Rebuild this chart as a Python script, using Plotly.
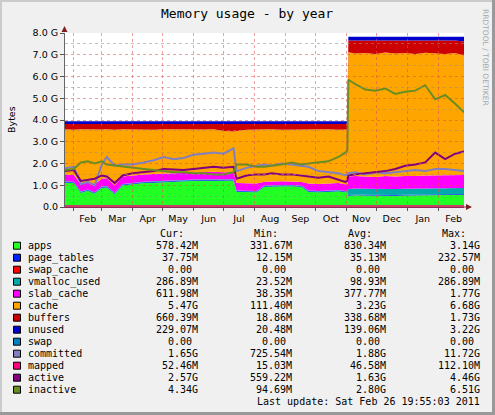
import plotly.graph_objects as go

# ---------------- data (values in GiB) ----------------
dates = [
    "2010-01-23", "2010-02-01", "2010-02-08", "2010-02-15", "2010-02-22",
    "2010-03-01", "2010-03-06", "2010-03-14", "2010-03-22", "2010-04-01",
    "2010-04-12", "2010-04-22", "2010-05-02", "2010-05-12", "2010-05-22",
    "2010-06-01", "2010-06-11", "2010-06-21", "2010-07-01", "2010-07-11",
    "2010-07-14", "2010-07-24", "2010-08-03", "2010-08-11", "2010-08-18",
    "2010-08-28", "2010-09-07", "2010-09-17", "2010-09-24", "2010-10-04",
    "2010-10-14", "2010-10-24", "2010-10-31", "2010-11-02", "2010-11-03",
    "2010-11-10", "2010-11-20", "2010-11-30", "2010-12-10", "2010-12-20",
    "2010-12-30", "2011-01-09", "2011-01-19", "2011-01-29", "2011-02-08",
    "2011-02-18", "2011-02-26 19:55",
]

apps = [1.12, 1.10, 0.65, 0.75, 0.62, 0.88, 0.90, 0.60, 1.00, 1.05,
        1.10, 1.12, 1.13, 1.15, 1.18, 1.20, 1.20, 1.22, 1.22, 1.22,
        0.70, 0.68, 0.68, 0.93, 0.95, 0.95, 0.95, 0.93, 0.70, 0.68,
        0.70, 0.72, 0.68, 0.68, 0.52, 0.54, 0.53, 0.52, 0.53, 0.52,
        0.53, 0.54, 0.53, 0.54, 0.56, 0.55, 0.565]
page_tables = [0.035, 0.035, 0.035, 0.035, 0.035, 0.035, 0.035, 0.035, 0.035, 0.035,
               0.035, 0.035, 0.035, 0.035, 0.035, 0.035, 0.035, 0.035, 0.035, 0.035,
               0.035, 0.035, 0.035, 0.035, 0.035, 0.035, 0.035, 0.035, 0.035, 0.035,
               0.035, 0.035, 0.035, 0.035, 0.035, 0.035, 0.035, 0.035, 0.035, 0.035,
               0.035, 0.035, 0.035, 0.035, 0.035, 0.035, 0.035]
swap_cache = [0.0, 0.0, 0.0, 0.0, 0.0, 0.0, 0.0, 0.0, 0.0, 0.0,
              0.0, 0.0, 0.0, 0.0, 0.0, 0.0, 0.0, 0.0, 0.0, 0.0,
              0.0, 0.0, 0.0, 0.0, 0.0, 0.0, 0.0, 0.0, 0.0, 0.0,
              0.0, 0.0, 0.0, 0.0, 0.0, 0.0, 0.0, 0.0, 0.0, 0.0,
              0.0, 0.0, 0.0, 0.0, 0.0, 0.0, 0.0]
vmalloc_used = [0.025, 0.025, 0.025, 0.025, 0.025, 0.025, 0.025, 0.025, 0.025, 0.025,
                0.025, 0.025, 0.025, 0.025, 0.025, 0.025, 0.025, 0.025, 0.025, 0.025,
                0.025, 0.025, 0.025, 0.025, 0.025, 0.025, 0.025, 0.025, 0.025, 0.025,
                0.025, 0.025, 0.025, 0.025, 0.27, 0.27, 0.27, 0.27, 0.27, 0.27,
                0.27, 0.27, 0.27, 0.27, 0.27, 0.27, 0.27]
slab_cache = [0.30, 0.31, 0.34, 0.31, 0.37, 0.36, 0.36, 0.34, 0.34, 0.34,
              0.34, 0.34, 0.35, 0.35, 0.34, 0.34, 0.34, 0.34, 0.32, 0.32,
              0.34, 0.34, 0.34, 0.17, 0.17, 0.17, 0.16, 0.16, 0.32, 0.32,
              0.32, 0.32, 0.31, 0.31, 0.575, 0.575, 0.565, 0.555, 0.585, 0.575,
              0.595, 0.575, 0.615, 0.615, 0.615, 0.615, 0.60]
cache = [2.09, 2.08, 2.52, 2.44, 2.53, 2.26, 2.25, 2.55, 2.17, 2.11,
         2.07, 2.03, 2.03, 2.00, 1.99, 1.95, 1.96, 1.95, 1.89, 1.87,
         2.40, 2.47, 2.48, 2.39, 2.39, 2.37, 2.39, 2.42, 2.47, 2.50,
         2.49, 2.45, 2.51, 2.51, 5.71, 5.64, 5.68, 5.66, 5.68, 5.66,
         5.65, 5.62, 5.64, 5.60, 5.56, 5.61, 5.495]
buffers = [0.25, 0.27, 0.25, 0.26, 0.24, 0.26, 0.25, 0.27, 0.25, 0.26,
           0.25, 0.27, 0.25, 0.26, 0.25, 0.27, 0.26, 0.25, 0.33, 0.35,
           0.32, 0.27, 0.26, 0.27, 0.25, 0.27, 0.26, 0.25, 0.27, 0.26,
           0.25, 0.27, 0.26, 0.26, 0.55, 0.60, 0.58, 0.62, 0.56, 0.60,
           0.58, 0.62, 0.57, 0.60, 0.62, 0.58, 0.645]
unused = [0.12, 0.12, 0.12, 0.12, 0.12, 0.12, 0.12, 0.12, 0.12, 0.12,
          0.12, 0.12, 0.12, 0.12, 0.12, 0.12, 0.12, 0.12, 0.12, 0.12,
          0.12, 0.12, 0.12, 0.12, 0.12, 0.12, 0.12, 0.12, 0.12, 0.12,
          0.12, 0.12, 0.12, 0.12, 0.17, 0.17, 0.17, 0.17, 0.17, 0.17,
          0.17, 0.17, 0.17, 0.17, 0.17, 0.17, 0.22]
swap = [0.0, 0.0, 0.0, 0.0, 0.0, 0.0, 0.0, 0.0, 0.0, 0.0,
        0.0, 0.0, 0.0, 0.0, 0.0, 0.0, 0.0, 0.0, 0.0, 0.0,
        0.0, 0.0, 0.0, 0.0, 0.0, 0.0, 0.0, 0.0, 0.0, 0.0,
        0.0, 0.0, 0.0, 0.0, 0.0, 0.0, 0.0, 0.0, 0.0, 0.0,
        0.0, 0.0, 0.0, 0.0, 0.0, 0.0, 0.0]
committed = [1.78, 1.85, 1.05, 1.15, 1.00, 1.95, 2.30, 1.90, 1.95, 1.95,
             2.05, 2.15, 2.30, 2.20, 2.25, 2.40, 2.45, 2.50, 2.45, 2.70,
             1.65, 1.80, 1.90, 1.95, 1.90, 2.00, 1.95, 1.90, 1.85, 1.65,
             1.60, 1.55, 1.45, 1.50, 1.55, 1.60, 1.50, 1.60, 1.55, 1.60,
             1.65, 1.70, 1.65, 1.75, 1.75, 1.70, 1.65]
mapped = [0.045, 0.045, 0.045, 0.045, 0.045, 0.045, 0.045, 0.045, 0.045, 0.045,
          0.045, 0.045, 0.045, 0.045, 0.045, 0.045, 0.045, 0.045, 0.045, 0.045,
          0.045, 0.045, 0.045, 0.045, 0.045, 0.045, 0.045, 0.045, 0.045, 0.045,
          0.045, 0.045, 0.045, 0.045, 0.05, 0.05, 0.05, 0.05, 0.05, 0.05,
          0.05, 0.05, 0.05, 0.05, 0.05, 0.05, 0.05]
active = [1.65, 1.70, 1.20, 1.25, 1.30, 1.45, 1.40, 1.10, 1.45, 1.55,
          1.60, 1.65, 1.75, 1.72, 1.70, 1.75, 1.80, 1.85, 1.80, 1.85,
          1.30, 1.45, 1.50, 1.50, 1.55, 1.50, 1.50, 1.45, 1.40, 1.35,
          1.40, 1.25, 1.15, 1.20, 1.45, 1.50, 1.55, 1.60, 1.65, 1.75,
          1.90, 1.95, 2.05, 2.50, 2.20, 2.45, 2.55]
inactive = [1.70, 1.75, 2.05, 2.10, 2.00, 2.10, 1.95, 1.90, 1.85, 1.80,
            1.75, 1.70, 1.65, 1.60, 1.60, 1.55, 1.55, 1.50, 1.50, 1.60,
            1.95, 1.95, 1.85, 1.85, 1.90, 1.95, 2.05, 1.95, 2.00, 2.05,
            2.10, 2.30, 2.50, 2.60, 5.85, 5.65, 5.40, 5.35, 5.45, 5.20,
            5.30, 5.35, 5.60, 4.95, 5.15, 4.75, 4.35]

y_ticks = [0, 1, 2, 3, 4, 5, 6, 7, 8]
y_labels = ["0.0", "1.0 G", "2.0 G", "3.0 G", "4.0 G", "5.0 G", "6.0 G", "7.0 G", "8.0 G"]
x_range = ["2010-01-23 05:00", "2011-02-26 19:55"]

legend_names = ["apps", "page_tables", "swap_cache", "vmalloc_used", "slab_cache",
                "cache", "buffers", "unused", "swap", "committed", "mapped",
                "active", "inactive"]
legend_colors = ["#22ff22", "#0022ff", "#ff0000", "#00aaaa", "#ff00ff", "#ffa500",
                 "#cc0000", "#0000cc", "#0080c0", "#8080c0", "#ff0080", "#800080",
                 "#688e23"]
cur_vals = ["578.42M", "37.75M", "0.00", "286.89M", "611.98M", "5.47G", "660.39M",
            "229.07M", "0.00", "1.65G", "52.46M", "2.57G", "4.34G"]
min_vals = ["331.67M", "12.15M", "0.00", "23.52M", "38.35M", "111.40M", "18.86M",
            "20.48M", "0.00", "725.54M", "15.03M", "559.22M", "94.69M"]
avg_vals = ["830.34M", "35.13M", "0.00", "98.93M", "377.77M", "3.23G", "338.68M",
            "139.06M", "0.00", "1.88G", "46.58M", "1.63G", "2.80G"]
max_vals = ["3.14G", "232.57M", "0.00", "286.89M", "1.77G", "6.68G", "1.73G",
            "3.22G", "0.00", "11.72G", "112.10M", "4.46G", "6.51G"]
col_headers = ["Cur:", "Min:", "Avg:", "Max:"]
title_text = "Memory usage - by year"
last_update = "Last update: Sat Feb 26 19:55:03 2011"
side_text = "RRDTOOL / TOBI OETIKER"

# ---------------- geometry ----------------
W, H = 495, 415
ML, MR, MT, MB = 65, 31, 33, 208
PW = W - ML - MR
PH = H - MT - MB


def xp(px):
    return (px - ML) / PW


def yp(py):
    return (H - MB - py) / PH


MONO = "DejaVu Sans Mono"
SANS = "DejaVu Sans"

fig = go.Figure()

stack = [apps, page_tables, swap_cache, vmalloc_used, slab_cache, cache,
         buffers, unused, swap]
for name, vals, col in zip(legend_names[:9], stack, legend_colors[:9]):
    fig.add_trace(go.Scatter(x=dates, y=vals, name=name, mode="lines",
                             stackgroup="mem", line=dict(width=0, color=col),
                             fillcolor=col, showlegend=False,
                             xaxis="x", yaxis="y"))

lines = [committed, mapped, active, inactive]
for name, vals, col in zip(legend_names[9:], lines, legend_colors[9:]):
    fig.add_trace(go.Scatter(x=dates, y=vals, name=name, mode="lines",
                             line=dict(width=2 if name != "mapped" else 1.5, color=col),
                             showlegend=False, xaxis="x", yaxis="y"))

tickfont = dict(family=SANS, size=9.5, color="black")
grid_major = "rgba(224,80,80,0.55)"
grid_minor = "rgba(143,143,143,0.55)"

fig.update_layout(
    width=W, height=H,
    margin=dict(l=ML, r=MR, t=MT, b=MB, pad=0),
    paper_bgcolor="#f0f0f0",
    plot_bgcolor="rgba(0,0,0,0)",
    showlegend=False,
    xaxis=dict(type="date", range=x_range, dtick="M1", tick0="2010-01-01",
               tickformat="%b", ticklabelmode="period", showgrid=False,
               ticks="outside", ticklen=3, tickcolor="#555",
               showline=True, linecolor="#8c2a55", linewidth=1,
               tickfont=tickfont, zeroline=False, fixedrange=True,
               domain=[0, 1], anchor="y"),
    yaxis=dict(range=[0, 8], tickvals=y_ticks, ticktext=y_labels,
               showgrid=False, ticks="outside", ticklen=4, tickcolor="#555",
               showline=True, linecolor="#666", linewidth=1,
               tickfont=tickfont, zeroline=False, fixedrange=True,
               domain=[0, 1], anchor="x"),
    xaxis2=dict(type="date", range=x_range, dtick="M1", tick0="2010-01-01",
                showgrid=True, gridcolor=grid_major, griddash="dot", gridwidth=1,
                showticklabels=False, ticks="", showline=False, zeroline=False,
                domain=[0, 1], anchor="y2", fixedrange=True),
    yaxis2=dict(range=[0, 8], dtick=1, showgrid=True, gridcolor=grid_major,
                griddash="dot", gridwidth=1,
                minor=dict(dtick=0.5, showgrid=True, gridcolor=grid_minor,
                           griddash="dot", gridwidth=1),
                showticklabels=False, ticks="", showline=False, zeroline=False,
                domain=[0, 1], anchor="x2", fixedrange=True),
)

# empty helper trace so the grid subplot exists above the data
fig.add_trace(go.Scatter(x=[dates[0]], y=[None], xaxis="x2", yaxis="y2",
                         mode="lines", showlegend=False, hoverinfo="skip"))

shapes = []
# white canvas behind the data
shapes.append(dict(type="rect", xref="paper", yref="paper", x0=0, x1=1, y0=0, y1=1,
                   fillcolor="white", line=dict(width=0), layer="below"))
# frame shading
shapes.append(dict(type="rect", xref="paper", yref="paper", x0=xp(0), x1=xp(W),
                   y0=yp(2), y1=yp(0), fillcolor="#cbcbcb", line=dict(width=0), layer="below"))
shapes.append(dict(type="rect", xref="paper", yref="paper", x0=xp(0), x1=xp(2),
                   y0=yp(H), y1=yp(0), fillcolor="#cbcbcb", line=dict(width=0), layer="below"))
shapes.append(dict(type="rect", xref="paper", yref="paper", x0=xp(0), x1=xp(W),
                   y0=yp(H), y1=yp(H - 3), fillcolor="#999999", line=dict(width=0), layer="below"))
shapes.append(dict(type="rect", xref="paper", yref="paper", x0=xp(W - 3), x1=xp(W),
                   y0=yp(H), y1=yp(0), fillcolor="#999999", line=dict(width=0), layer="below"))
# axis arrows
arrow_col = "#7f1f1f"
shapes.append(dict(type="line", xref="paper", yref="paper", x0=1, x1=xp(467),
                   y0=0, y1=0, line=dict(color="#8c2a55", width=1)))
shapes.append(dict(type="path", xref="paper", yref="paper",
                   path=f"M {xp(472)} {yp(207)} L {xp(466)} {yp(204)} L {xp(466)} {yp(210)} Z",
                   fillcolor=arrow_col, line=dict(width=0)))
shapes.append(dict(type="path", xref="paper", yref="paper",
                   path=f"M {xp(64.5)} {yp(26)} L {xp(61.5)} {yp(32)} L {xp(67.5)} {yp(32)} Z",
                   fillcolor=arrow_col, line=dict(width=0)))

annotations = []
annotations.append(dict(text=title_text, xref="paper", yref="paper", x=xp(247), y=yp(14),
                        xanchor="center", yanchor="middle", showarrow=False,
                        font=dict(family=MONO, size=13, color="black")))
annotations.append(dict(text="Bytes", xref="paper", yref="paper", x=xp(11), y=yp(120),
                        xanchor="center", yanchor="middle", showarrow=False, textangle=-90,
                        font=dict(family=SANS, size=9.5, color="black")))
annotations.append(dict(text=side_text, xref="paper", yref="paper", x=xp(486), y=yp(57),
                        xanchor="center", yanchor="middle", showarrow=False, textangle=90,
                        font=dict(family=SANS, size=7.5, color="#a8a8a8")))

legfont = dict(family=MONO, size=10, color="black")
header_x = [184.5, 278.5, 372.5, 466.5]
col_x = [198.7, 292.7, 386.7, 480.7]
row0 = 245.7
for hx, ht in zip(header_x, col_headers):
    annotations.append(dict(text=ht, xref="paper", yref="paper", x=xp(hx), y=yp(row0 - 12),
                            xanchor="right", yanchor="middle", showarrow=False,
                            borderpad=0, font=legfont))
for i, name in enumerate(legend_names):
    ry = row0 + 12 * i
    shapes.append(dict(type="rect", xref="paper", yref="paper",
                       x0=xp(13.5), x1=xp(20.5), y0=yp(ry + 3.5), y1=yp(ry - 3.5),
                       fillcolor=legend_colors[i], line=dict(color="black", width=1)))
    annotations.append(dict(text=name, xref="paper", yref="paper", x=xp(26.7), y=yp(ry),
                            xanchor="left", yanchor="middle", showarrow=False,
                            borderpad=0, font=legfont))
    for cx, vals in zip(col_x, [cur_vals, min_vals, avg_vals, max_vals]):
        v = vals[i]
        shift = 0 if v[-1] in "MGk" else 6
        annotations.append(dict(text=v, xref="paper", yref="paper", x=xp(cx - shift),
                                y=yp(ry), xanchor="right", yanchor="middle",
                                showarrow=False, borderpad=0, font=legfont))
annotations.append(dict(text=last_update, xref="paper", yref="paper", x=xp(480.7),
                        y=yp(row0 + 12 * 13), xanchor="right", yanchor="middle",
                        showarrow=False, borderpad=0, font=legfont))

fig.update_layout(shapes=shapes, annotations=annotations)
fig.write_html("out.html")
